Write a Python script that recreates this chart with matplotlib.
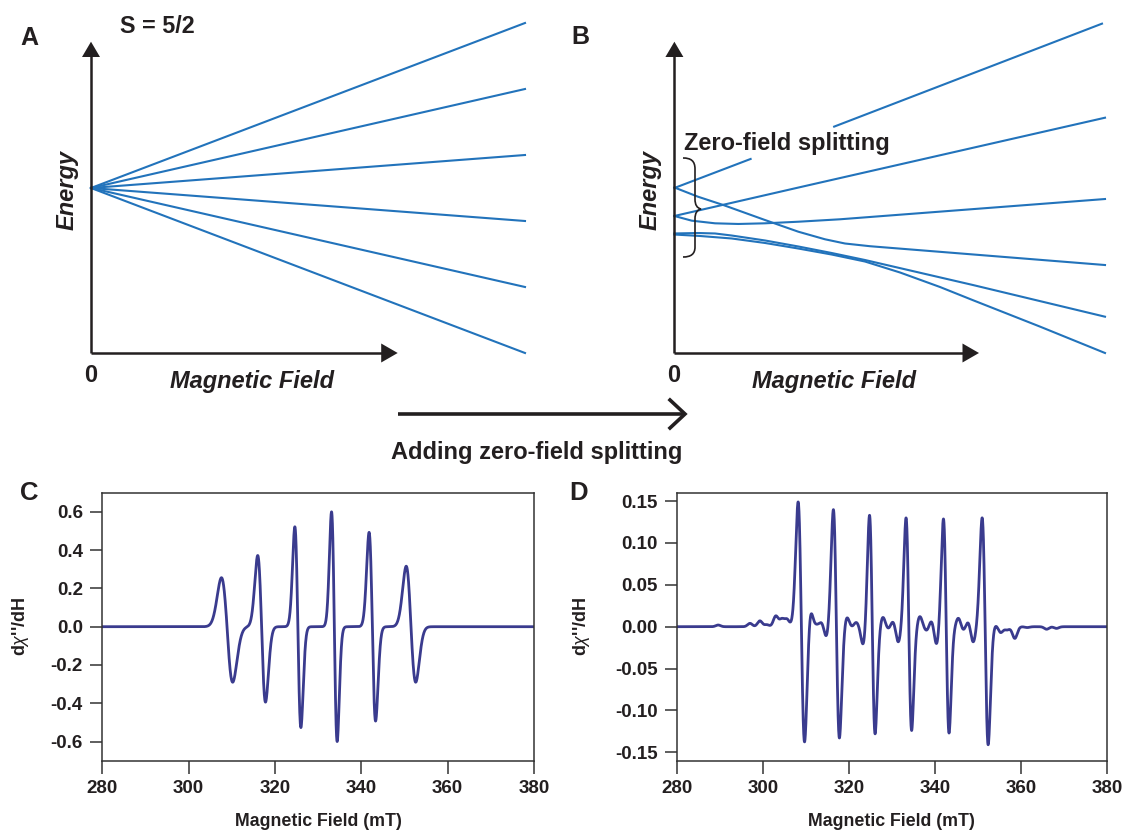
import numpy as np
import matplotlib
matplotlib.use("Agg")
import matplotlib.pyplot as plt
from matplotlib.patches import Polygon, PathPatch
from matplotlib.path import Path

plt.rcParams['font.family'] = ['Liberation Sans', 'DejaVu Sans']
plt.rcParams['mathtext.fontset'] = 'custom'
plt.rcParams['mathtext.it'] = 'Liberation Sans:italic'
plt.rcParams['mathtext.rm'] = 'Liberation Sans'

W, H = 1124, 831
ink = '#231f20'
blue = '#2273bb'
navy = '#3a3b8e'

# ---- panel A: Zeeman splitting, S = 5/2 (energy vs field, arbitrary units)
a_field = [0.0, 1.0]
a_start = [0.0, 0.0, 0.0, 0.0, 0.0, 0.0]
a_end = [2.5, 1.5, 0.5, -0.5, -1.5, -2.5]

# ---- panel B: levels with zero-field splitting (traced)
b1_x = [0.0, 0.177, np.nan, 0.371, 0.993]
b1_y = [0.0, 0.44, np.nan, 0.93, 2.49]
b2_x = [0.0, 0.0548, 0.1136, 0.2104, 0.2877, 0.3497, 0.3962, 0.4542, 1.0]
b2_y = [0.008, -0.132, -0.258, -0.485, -0.662, -0.777, -0.841, -0.882, -1.167]
b3_x = [0.0, 0.29, 1.0]
b3_y = [-0.424, 0.01, 1.065]
b4_x = [0.0, 0.0402, 0.0943, 0.1484, 0.2104, 0.2877, 0.3846, 1.0]
b4_y = [-0.424, -0.495, -0.535, -0.545, -0.535, -0.511, -0.474, -0.167]
b5_x = [0.0, 0.0548, 0.0943, 0.1331, 0.2104, 0.2877, 0.3653, 0.4426, 0.6934, 1.0]
b5_y = [-0.689, -0.682, -0.689, -0.720, -0.795, -0.886, -0.985, -1.091, -1.470, -1.950]
b6_x = [0.0, 0.0594, 0.1331, 0.2104, 0.2877, 0.3653, 0.4426, 0.5239, 0.6168, 0.6934, 0.849, 1.0]
b6_y = [-0.705, -0.727, -0.765, -0.833, -0.917, -1.008, -1.114, -1.28, -1.50, -1.70, -2.10, -2.50]

# ---- panel C: six-line spectrum, positive / negative extrema of each line
c_peak_x = [307.6, 316.0, 324.6, 333.1, 341.8, 350.4]
c_peak_y = [0.256, 0.372, 0.522, 0.600, 0.493, 0.316]
c_trough_x = [310.2, 317.8, 326.0, 334.4, 343.3, 352.6]
c_trough_y = [-0.290, -0.394, -0.527, -0.600, -0.493, -0.290]

# ---- panel D: same with zero-field splitting
d_peak_x = [308.2, 316.4, 324.8, 333.3, 342.0, 351.0]
d_peak_y = [0.149, 0.140, 0.134, 0.130, 0.129, 0.130]
d_trough_x = [309.7, 317.8, 326.1, 334.6, 343.3, 352.4]
d_trough_y = [-0.139, -0.133, -0.128, -0.124, -0.127, -0.141]
# small wiggles (position, value)
d_wig_x = [289.6, 297.0, 299.3, 300.9, 303.0, 304.4, 305.6,
           311.0, 312.5, 313.7, 314.8,
           319.5, 320.8, 321.7, 323.4,
           327.9, 329.2, 330.3, 331.5,
           336.5, 338.1, 339.3, 340.4,
           345.5, 346.6, 347.8, 348.9,
           354.0, 355.3, 356.8, 358.6, 361.5, 366.0, 368.3]
d_wig_y = [0.002, 0.004, 0.007, 0.0025, 0.013, 0.010, 0.0095,
           0.009, 0.003, 0.004, -0.010,
           0.010, 0.001, 0.005, -0.019,
           0.011, -0.0015, 0.005, -0.018,
           0.012, -0.004, 0.005, -0.020,
           0.010, -0.003, 0.004, -0.018,
           -0.001, -0.007, -0.004, -0.014, -0.001, -0.003, -0.002]


def lines(x, px, py, tx, ty):
    y = np.zeros_like(x)
    for p, a, t, b in zip(px, py, tx, ty):
        c = (p + t) / 2
        s = (t - p) / 2
        u = (c - x) / s
        amp = np.where(u > 0, a, -b)
        y += amp * u * np.exp(0.5 - u**2 / 2)
    return y


def ax_at(l, t, r, b):
    return fig.add_axes([l / W, 1 - b / H, (r - l) / W, (b - t) / H])


fig = plt.figure(figsize=(W / 100, H / 100), dpi=100)

# A
axA = ax_at(91, 23, 525, 353)
for e0, e1 in zip(a_start, a_end):
    axA.plot(a_field, [e0, e1], color=blue, lw=1.5, clip_on=False)
axA.set_xlim(0, 1)
axA.set_ylim(-2.5, 2.5)
axA.axis('off')

# B
axB = ax_at(674.4, 23, 1105, 353)
for bx, by in [(b1_x, b1_y), (b2_x, b2_y), (b3_x, b3_y),
               (b4_x, b4_y), (b5_x, b5_y), (b6_x, b6_y)]:
    axB.plot(bx, by, color=blue, lw=1.5, clip_on=False)
axB.set_xlim(0, 1)
axB.set_ylim(-2.5, 2.5)
axB.axis('off')

# spectra
field = np.linspace(280, 380, 5001)
c_curve = lines(field, c_peak_x, c_peak_y, c_trough_x, c_trough_y)

d_main = lines(field, d_peak_x, d_peak_y, d_trough_x, d_trough_y)
wx = np.array(d_wig_x)
w = 0.55
G = np.exp(-(wx[:, None] - wx[None, :])**2 / (2 * w**2))
resid = np.array(d_wig_y) - lines(wx, d_peak_x, d_peak_y, d_trough_x, d_trough_y)
hts = np.linalg.solve(G, resid)
d_curve = d_main + (hts[None, :] * np.exp(-(field[:, None] - wx[None, :])**2 / (2 * w**2))).sum(axis=1)


def style(ax, ylab_x):
    for sp in ax.spines.values():
        sp.set_color('#333333')
        sp.set_linewidth(1.1)
    ax.tick_params(direction='out', length=9, width=1.1, color='#333333',
                   labelsize=13.5, pad=5)
    for lab in ax.get_xticklabels() + ax.get_yticklabels():
        lab.set_fontweight('bold')
        lab.set_color(ink)
    ax.set_xlim(280, 380)
    ax.set_xticks([280, 300, 320, 340, 360, 380])
    ax.set_xlabel('Magnetic Field (mT)', fontsize=12.8, fontweight='bold', color=ink)
    ax.set_ylabel("d$\\chi$''/dH", fontsize=13, fontweight='bold', color=ink)
    ax.xaxis.set_label_coords(0.5, -0.195)
    ax.yaxis.set_label_coords(ylab_x, 0.5)


axC = ax_at(102.3, 492.7, 534, 760.7)
axC.plot(field, c_curve, color=navy, lw=2.0)
axC.set_ylim(-0.7, 0.7)
axC.set_yticks([-0.6, -0.4, -0.2, 0.0, 0.2, 0.4, 0.6])
axC.set_yticklabels(['%.1f' % v for v in axC.get_yticks()])
style(axC, -0.166)

axD = ax_at(676.9, 492.7, 1106.8, 760.7)
axD.plot(field, d_curve, color=navy, lw=2.0)
axD.set_ylim(-0.16, 0.16)
axD.set_yticks([-0.15, -0.10, -0.05, 0.0, 0.05, 0.10, 0.15])
axD.set_yticklabels(['%.2f' % v for v in axD.get_yticks()])
style(axD, -0.1975)

# overlay canvas in pixel coordinates for arrows, brace, text
cv = ax_at(0, 0, W, H)
cv.set_xlim(0, W)
cv.set_ylim(H, 0)
cv.axis('off')
cv.patch.set_alpha(0)

for x0, xe in [(91, 397.7), (674.4, 979)]:
    cv.plot([x0, x0], [353, 56], color=ink, lw=1.8, solid_capstyle='butt')
    cv.plot([x0, xe - 16], [353, 353], color=ink, lw=1.8, solid_capstyle='butt')
    cv.add_patch(Polygon([(x0 - 9, 57), (x0 + 9, 57), (x0, 41.7)], closed=True, color=ink, lw=0))
    cv.add_patch(Polygon([(xe - 16.5, 343.5), (xe - 16.5, 362.5), (xe, 353)], closed=True, color=ink, lw=0))

# brace
verts = [(683, 158), (691, 158), (695, 161), (695, 169),
         (695, 199), (695, 205), (697, 208), (701, 209),
         (697, 210), (695, 213), (695, 219),
         (695, 247), (695, 254), (691, 257), (683, 257)]
codes = [Path.MOVETO, Path.CURVE4, Path.CURVE4, Path.CURVE4,
         Path.LINETO, Path.CURVE4, Path.CURVE4, Path.CURVE4,
         Path.CURVE4, Path.CURVE4, Path.CURVE4,
         Path.LINETO, Path.CURVE4, Path.CURVE4, Path.CURVE4]
cv.add_patch(PathPatch(Path(verts, codes), fill=False, lw=1.2, ec=ink))

# middle arrow
cv.plot([398, 683], [414, 414], color=ink, lw=2.6, solid_capstyle='butt')
cv.plot([670, 685, 670], [400, 414, 428], color=ink, lw=2.6, solid_joinstyle='miter')

tx = dict(color=ink, fontweight='bold')
cv.text(20, 45, 'A', fontsize=18, **tx)
cv.text(571, 44, 'B', fontsize=18, **tx)
cv.text(20, 500, 'C', fontsize=18.5, **tx)
cv.text(569, 500, 'D', fontsize=18.5, **tx)
cv.text(120, 33, 'S = 5/2', fontsize=16.8, **tx)
for xo in [90.5, 674]:
    cv.text(xo, 382, '0', fontsize=17, ha='center', **tx)
cv.text(170, 388, 'Magnetic Field', fontsize=17, style='italic', **tx)
cv.text(752, 388, 'Magnetic Field', fontsize=17, style='italic', **tx)
cv.text(67, 190, 'Energy', fontsize=17, style='italic', rotation=90, ha='center', va='center', **tx)
cv.text(650, 190, 'Energy', fontsize=17, style='italic', rotation=90, ha='center', va='center', **tx)
cv.text(684, 150, 'Zero-field splitting', fontsize=17, **tx)
cv.text(537, 459, 'Adding zero-field splitting', fontsize=17, ha='center', **tx)

fig.savefig('out.png', dpi=100)
